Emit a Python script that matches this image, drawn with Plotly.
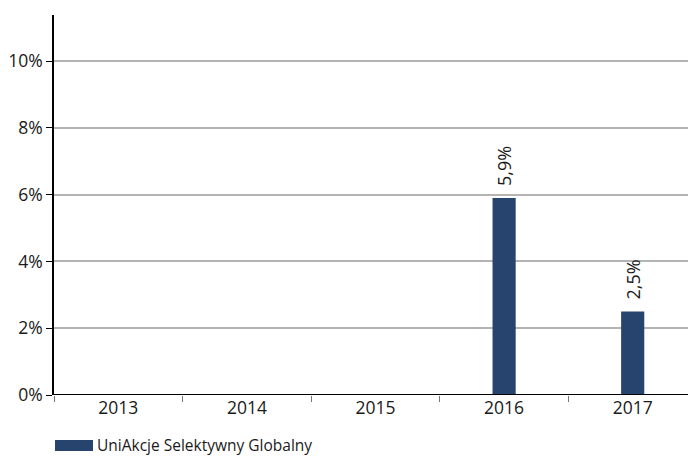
import plotly.graph_objects as go

years = ["2013", "2014", "2015", "2016", "2017"]
values = [None, None, None, 5.9, 2.5]
labels = ["", "", "", "5,9%", "2,5%"]
y_ticks = [0, 2, 4, 6, 8, 10]
y_tick_text = ["0%", "2%", "4%", "6%", "8%", "10%"]
series_name = "UniAkcje Selektywny Globalny"
bar_color = "#26446E"
font_family = "Open Sans, sans-serif"

fig = go.Figure()
fig.add_trace(go.Bar(
    x=years, y=values, name=series_name,
    marker_color=bar_color, marker_line_width=0, width=0.18,
    text=labels, texttemplate="\u2002%{text}",
    textposition="outside", textangle=-90,
    constraintext="none",
    textfont=dict(size=18, color="#1a1a1a", family=font_family),
    cliponaxis=False, showlegend=False, hoverinfo="skip",
))

fig.update_layout(
    width=688, height=457,
    margin=dict(l=54, r=0, t=15, b=62, autoexpand=False),
    plot_bgcolor="white", paper_bgcolor="white",
    font=dict(family=font_family, size=17.5, color="#1a1a1a"),
    separators=", ",
    xaxis=dict(
        type="category", range=[-0.5, 4.43], automargin=False,
        showgrid=False, showline=False,
        ticks="outside", tickson="boundaries", ticklen=6, tickcolor="#777",
        tickfont=dict(size=17.5), zeroline=False,
    ),
    yaxis=dict(
        range=[0, 11.38], tickvals=y_ticks, ticktext=y_tick_text,
        automargin=False,
        showgrid=True, gridcolor="#b4b4b4", gridwidth=1.5,
        showline=True, linecolor="black", linewidth=1.5,
        ticks="outside", ticklen=6, tickcolor="black",
        zeroline=False, tickfont=dict(size=17.5),
    ),
)
# baseline at 0
fig.add_shape(type="line", xref="paper", yref="y", x0=0, x1=1, y0=0, y1=0,
              line=dict(color="black", width=2))
# legend drawn as swatch + text
fig.add_shape(type="rect", xref="paper", yref="paper",
              x0=1/634, x1=39/634, y0=-45/380, y1=-56/380,
              fillcolor=bar_color, line=dict(width=0))
fig.add_annotation(xref="paper", yref="paper", x=41/634, y=-50.5/380,
                   xanchor="left", yanchor="middle", showarrow=False,
                   text=series_name, font=dict(size=15.5, color="#1a1a1a"))

fig.write_html("out.html", config={"displayModeBar": False},
               post_script="document.body.style.margin='0';")
